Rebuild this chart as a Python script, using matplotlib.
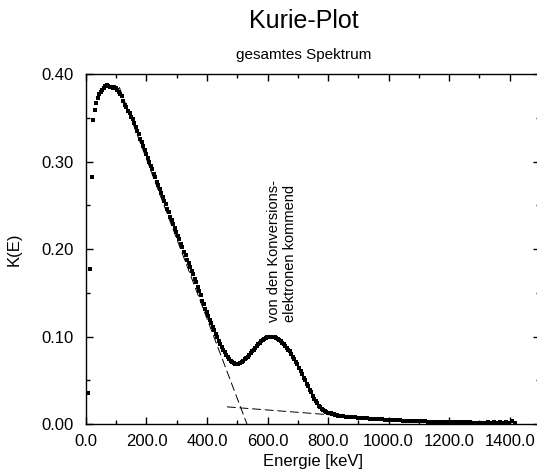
import matplotlib
matplotlib.use("Agg")
import matplotlib.pyplot as plt
from matplotlib.ticker import MultipleLocator, FormatStrFormatter

plt.rcParams['font.family'] = ['Liberation Sans', 'DejaVu Sans']

# measured spectrum (energy in keV, Kurie value)
energie = [7, 13, 20, 24, 29, 34, 39, 44, 49, 54, 59, 64, 69, 74, 79, 84, 89, 94, 99,
           104, 109, 114, 119, 124, 129, 134, 139, 144, 149,
           154, 159, 164, 169, 174, 179, 184, 189, 194, 199,
           204, 209, 214, 219, 224, 229, 234, 239, 244, 249,
           254, 259, 264, 269, 274, 279, 284, 289, 294, 299,
           304, 309, 314, 319, 324, 329, 334, 339, 344, 349,
           354, 359, 364, 369, 374, 379, 384, 389, 394, 399,
           404, 409, 414, 419, 424, 429, 434, 439, 444, 449,
           454, 459, 464, 469, 474, 479, 484, 489, 494, 499,
           504, 509, 514, 519, 524, 529, 534, 539, 544, 549,
           554, 559, 564, 569, 574, 579, 584, 589, 594, 599,
           604, 609, 614, 619, 624, 629, 634, 639, 644, 649,
           654, 659, 664, 669, 674, 679, 684, 689, 694, 699,
           704, 709, 714, 719, 724, 729, 734, 739, 744, 749,
           754, 759, 764, 769, 774, 779, 784, 789, 794, 799,
           804, 809, 814, 819, 824, 829, 834, 839, 844, 849,
           859, 869, 879, 889, 899, 909, 919, 929, 939, 949,
           959, 969, 979, 989, 999, 1009, 1019, 1029, 1039, 1049,
           1059, 1069, 1079, 1089, 1099, 1109, 1119, 1129, 1139, 1149,
           1159, 1169, 1179, 1189, 1199, 1209, 1219, 1229, 1239, 1249,
           1259, 1269, 1279, 1289, 1299, 1309, 1319, 1329, 1339, 1349,
           1359, 1369, 1379, 1389, 1399, 1409, 1419]
kurie = [0.035, 0.177, 0.282, 0.347, 0.359, 0.367, 0.373, 0.377, 0.379, 0.382,
         0.384, 0.386, 0.387, 0.386, 0.385, 0.385, 0.384, 0.385, 0.384,
         0.382, 0.379, 0.377, 0.375, 0.369, 0.365, 0.362, 0.358, 0.355, 0.351,
         0.349, 0.344, 0.340, 0.335, 0.331, 0.326, 0.322, 0.318, 0.313, 0.309,
         0.304, 0.300, 0.295, 0.291, 0.286, 0.282, 0.277, 0.273, 0.269, 0.264,
         0.260, 0.255, 0.251, 0.246, 0.242, 0.237, 0.233, 0.229, 0.224, 0.220,
         0.215, 0.211, 0.206, 0.202, 0.197, 0.193, 0.188, 0.184, 0.180, 0.175,
         0.171, 0.166, 0.162, 0.157, 0.152, 0.147, 0.141, 0.137, 0.132, 0.128,
         0.124, 0.119, 0.115, 0.111, 0.107, 0.103, 0.099, 0.095, 0.091, 0.088,
         0.085, 0.082, 0.079, 0.076, 0.074, 0.072, 0.071, 0.070, 0.069, 0.069,
         0.069, 0.070, 0.071, 0.072, 0.074, 0.075, 0.077, 0.079, 0.081, 0.083,
         0.085, 0.087, 0.089, 0.091, 0.093, 0.095, 0.096, 0.097, 0.098, 0.099,
         0.0995, 0.0998, 0.0998, 0.0996, 0.099, 0.098, 0.097, 0.096, 0.095, 0.093,
         0.091, 0.089, 0.087, 0.085, 0.083, 0.080, 0.077, 0.074, 0.071, 0.068,
         0.064, 0.061, 0.057, 0.053, 0.050, 0.046, 0.043, 0.039, 0.036, 0.032,
         0.029, 0.026, 0.024, 0.021, 0.019, 0.017, 0.016, 0.015, 0.014, 0.013,
         0.0125, 0.012, 0.0115, 0.011, 0.0105, 0.010, 0.0097, 0.0094, 0.0091, 0.0088,
         0.0085, 0.0081, 0.0078, 0.0075, 0.0072, 0.0069, 0.0066, 0.0063, 0.0061, 0.0058,
         0.0056, 0.0054, 0.0052, 0.0050, 0.0048, 0.0046, 0.0044, 0.0042, 0.0040, 0.0038,
         0.0036, 0.0035, 0.0033, 0.0032, 0.0031, 0.0030, 0.0029, 0.0028, 0.0027, 0.0026,
         0.0025, 0.0024, 0.0023, 0.0022, 0.0021, 0.0021, 0.0020, 0.0020, 0.0019, 0.0019,
         0.0018, 0.0018, 0.0017, 0.0017, 0.0016, 0.0016, 0.0016, 0.0022, 0.0015, 0.0024,
         0.0014, 0.0026, 0.0013, 0.0028, 0.0012, 0.0030, 0.0010]

# straight-line fits (dashed)
fit_beta_e = [110, 532]
fit_beta_k = [0.385, 0.0]
fit_hoch_e = [466, 1200]
fit_hoch_k = [0.0196, 0.0]

fig = plt.figure(figsize=(5.37, 4.72), dpi=100)
ax = fig.add_axes([0.160, 0.1017, 0.8455, 0.7415])

ax.plot(energie, kurie, linestyle='none', marker='s', markersize=2.2,
        color='black', markeredgewidth=0)
ax.plot(fit_beta_e, fit_beta_k, color='black', linewidth=0.7, dashes=(9, 4))
ax.plot(fit_hoch_e, fit_hoch_k, color='black', linewidth=0.7, dashes=(9, 4))

ax.set_xlim(0, 1500)
ax.set_ylim(0, 0.4)
ax.xaxis.set_major_locator(MultipleLocator(200))
ax.xaxis.set_minor_locator(MultipleLocator(100))
ax.yaxis.set_major_locator(MultipleLocator(0.1))
ax.yaxis.set_minor_locator(MultipleLocator(0.05))
ax.xaxis.set_major_formatter(FormatStrFormatter('%.1f'))
ax.yaxis.set_major_formatter(FormatStrFormatter('%.2f'))
ax.tick_params(which='both', direction='in', top=True, right=True, labelsize=12)
ax.tick_params(which='major', length=5, width=1)
ax.tick_params(which='minor', length=3, width=1)
ax.tick_params(axis='x', pad=7)
ax.tick_params(axis='y', pad=9)
for s in ax.spines.values():
    s.set_linewidth(1.0)

ax.set_xlabel('Energie [keV]', fontsize=12, labelpad=4)
ax.set_ylabel('K(E)', fontsize=12, labelpad=14)

ax.text(648, 0.117, 'von den Konversions-\nelektronen kommend', rotation=90,
        ha='center', va='bottom', multialignment='left', fontsize=10.5)

fig.text(0.566, 0.956, 'Kurie-Plot', ha='center', va='center', fontsize=18)
fig.text(0.566, 0.883, 'gesamtes Spektrum', ha='center', va='center', fontsize=11)

fig.savefig('out.png', dpi=100)
